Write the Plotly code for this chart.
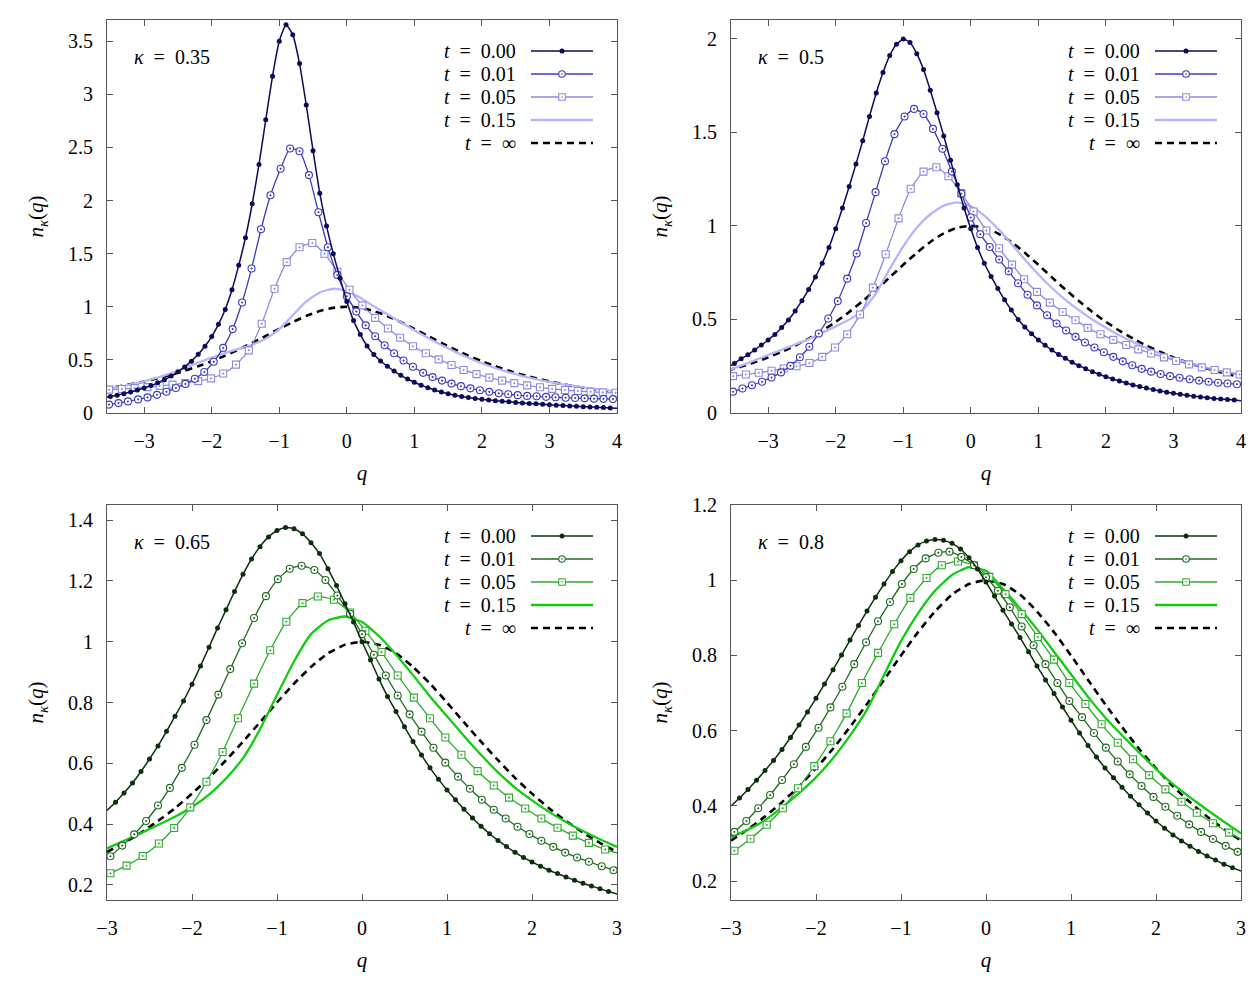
import plotly.graph_objects as go

W, H = 1260, 990
FONT = "'Liberation Serif', 'DejaVu Serif', 'Times New Roman', serif"

# ---------------- q sampling grids ----------------
TOP_Q_DOT = [-3.55, -3.5, -3.4, -3.3, -3.2, -3.1, -3.0, -2.9, -2.8, -2.7, -2.6,
             -2.5, -2.4, -2.3, -2.2, -2.1, -2.0, -1.9, -1.8, -1.7, -1.6,
             -1.5, -1.4, -1.3, -1.2, -1.1, -1.0, -0.9, -0.8, -0.7, -0.6,
             -0.5, -0.4, -0.3, -0.2, -0.1, 0.0, 0.1, 0.2, 0.3, 0.4,
             0.5, 0.6, 0.7, 0.8, 0.9, 1.0, 1.1, 1.2, 1.3, 1.4,
             1.5, 1.6, 1.7, 1.8, 1.9, 2.0, 2.1, 2.2, 2.3, 2.4,
             2.5, 2.6, 2.7, 2.8, 2.9, 3.0, 3.1, 3.2, 3.3, 3.4,
             3.5, 3.6, 3.7, 3.8, 3.9, 4.0]
TOP_Q_CIRC = [-3.55,
              -3.52, -3.38, -3.24, -3.09, -2.95, -2.81, -2.67, -2.53, -2.39, -2.25,
              -2.11, -1.97, -1.83, -1.69, -1.55, -1.41, -1.27, -1.13, -0.98, -0.84,
              -0.70, -0.56, -0.42, -0.28, -0.14, 0.0, 0.14, 0.28, 0.42, 0.56,
              0.70, 0.84, 0.98, 1.13, 1.27, 1.41, 1.55, 1.69, 1.83, 1.97,
              2.11, 2.25, 2.39, 2.53, 2.67, 2.81, 2.95, 3.09, 3.24, 3.38,
              3.52, 3.66, 3.80, 3.94,
              4.0]
TOP_Q_SQ = [-3.55,
            -3.52, -3.33, -3.14, -2.95, -2.77, -2.58, -2.39, -2.20, -2.01, -1.83,
            -1.64, -1.45, -1.26, -1.07, -0.89, -0.70, -0.51, -0.33, -0.14, 0.04,
            0.23, 0.42, 0.61, 0.79, 0.98, 1.17, 1.36, 1.55, 1.73, 1.92,
            2.11, 2.30, 2.48, 2.67, 2.86, 3.04, 3.23, 3.42, 3.61, 3.79,
            3.98,
            4.0]
TOP_Q_LINE = [-3.6, -3.4, -3.2, -3.0, -2.8, -2.6, -2.4, -2.2, -2.0, -1.8,
              -1.6, -1.4, -1.2, -1.0, -0.8, -0.6, -0.4, -0.2, 0.0, 0.2,
              0.4, 0.6, 0.8, 1.0, 1.2, 1.4, 1.6, 1.8, 2.0, 2.2,
              2.4, 2.6, 2.8, 3.0, 3.2, 3.4, 3.6, 3.8, 4.0]

BOT_Q_DOT = [-3.0, -2.9, -2.8, -2.7, -2.6, -2.5, -2.4, -2.3, -2.2, -2.1,
             -2.0, -1.9, -1.8, -1.7, -1.6, -1.5, -1.4, -1.3, -1.2, -1.1,
             -1.0, -0.9, -0.8, -0.7, -0.6, -0.5, -0.4, -0.3, -0.2, -0.1,
             0.0, 0.1, 0.2, 0.3, 0.4, 0.5, 0.6, 0.7, 0.8, 0.9,
             1.0, 1.1, 1.2, 1.3, 1.4, 1.5, 1.6, 1.7, 1.8, 1.9,
             2.0, 2.1, 2.2, 2.3, 2.4, 2.5, 2.6, 2.7, 2.8, 2.9,
             3.0]
BOT_Q_CIRC = [-3.0,
              -2.96, -2.82, -2.68, -2.54, -2.40, -2.26, -2.12, -1.97, -1.83, -1.69,
              -1.55, -1.41, -1.27, -1.13, -0.99, -0.85, -0.71, -0.56, -0.43, -0.29,
              -0.14, 0.0, 0.14, 0.28, 0.42, 0.56, 0.70, 0.84, 0.98, 1.13,
              1.27, 1.41, 1.55, 1.69, 1.83, 1.97, 2.11, 2.25, 2.39, 2.53,
              2.67, 2.82, 2.96,
              3.0]
BOT_Q_SQ = [-3.0,
            -2.96, -2.77, -2.58, -2.39, -2.21, -2.02, -1.83, -1.64, -1.46, -1.27,
            -1.08, -0.89, -0.70, -0.52, -0.33, -0.14, 0.04, 0.23, 0.42, 0.61,
            0.80, 0.98, 1.17, 1.36, 1.55, 1.73, 1.92, 2.11, 2.30, 2.48,
            2.67, 2.86,
            3.0]
BOT_Q_LINE = [-3.0, -2.8, -2.6, -2.4, -2.2, -2.0, -1.8, -1.6, -1.4, -1.2,
              -1.0, -0.8, -0.6, -0.4, -0.2, 0.0, 0.2, 0.4, 0.6, 0.8,
              1.0, 1.2, 1.4, 1.6, 1.8, 2.0, 2.2, 2.4, 2.6, 2.8,
              3.0]

# ---------------- kappa = 0.35 ----------------
P1_T000 = [0.149,
           0.155, 0.168, 0.182, 0.198, 0.216, 0.236, 0.258, 0.284, 0.314, 0.348,
           0.388, 0.434, 0.488, 0.552, 0.628, 0.72, 0.835, 0.975, 1.16, 1.39,
           1.65, 1.97, 2.34, 2.76, 3.17, 3.50, 3.655, 3.56, 3.29, 2.90,
           2.47, 2.07, 1.76, 1.50, 1.27, 1.05, 0.87, 0.74, 0.63, 0.55,
           0.49, 0.44, 0.395, 0.355, 0.32, 0.29, 0.262, 0.238, 0.217, 0.198,
           0.182, 0.168, 0.156, 0.146, 0.137, 0.129, 0.122, 0.116, 0.11, 0.105,
           0.1, 0.095, 0.09, 0.086, 0.082, 0.078, 0.074, 0.07, 0.067, 0.063,
           0.06, 0.057, 0.054, 0.051, 0.048, 0.045]
P1_T001 = [0.076,
           0.079, 0.093, 0.109, 0.128, 0.147, 0.171, 0.2, 0.235, 0.274, 0.322,
           0.386, 0.482, 0.613, 0.79, 1.04, 1.36, 1.73, 2.05, 2.30, 2.49,
           2.465, 2.24, 1.89, 1.56, 1.30, 1.10, 0.955, 0.825, 0.723, 0.638,
           0.562, 0.494, 0.435, 0.378, 0.338, 0.305, 0.277, 0.253, 0.232, 0.214,
           0.199, 0.186, 0.176, 0.168, 0.161, 0.157, 0.152, 0.148, 0.144, 0.141,
           0.138, 0.135, 0.133, 0.131,
           0.13]
P1_T005 = [0.219,
           0.22, 0.226, 0.234, 0.244, 0.255, 0.267, 0.282, 0.3, 0.326, 0.372,
           0.455, 0.59, 0.84, 1.17, 1.42, 1.56, 1.60, 1.50, 1.33, 1.16,
           1.013, 0.896, 0.796, 0.708, 0.629, 0.562, 0.505, 0.452, 0.405, 0.366,
           0.333, 0.305, 0.281, 0.26, 0.242, 0.227, 0.216, 0.207, 0.2, 0.194,
           0.19,
           0.19]
P1_T015 = [0.222, 0.244, 0.269, 0.298, 0.334, 0.376, 0.424, 0.474, 0.522, 0.565,
           0.603, 0.643, 0.70, 0.79, 0.92, 1.05, 1.135, 1.17, 1.15, 1.085,
           1.005, 0.93, 0.855, 0.78, 0.708, 0.64, 0.578, 0.52, 0.468, 0.423,
           0.383, 0.348, 0.318, 0.292, 0.27, 0.25, 0.232, 0.217, 0.203]

# ---------------- kappa = 0.5 ----------------
P2_T000 = [0.253,
           0.265, 0.29, 0.311, 0.337, 0.363, 0.39, 0.42, 0.457, 0.497, 0.545,
           0.60, 0.66, 0.727, 0.80, 0.885, 0.985, 1.095, 1.21, 1.33, 1.455,
           1.585, 1.71, 1.82, 1.91, 1.97, 1.998, 1.98, 1.92, 1.835, 1.725,
           1.605, 1.48, 1.35, 1.22, 1.095, 0.985, 0.885, 0.80, 0.73, 0.665,
           0.605, 0.55, 0.50, 0.46, 0.423, 0.39, 0.362, 0.336, 0.313, 0.292,
           0.271, 0.253, 0.237, 0.221, 0.207, 0.194, 0.182, 0.171, 0.16, 0.15,
           0.141, 0.133, 0.125, 0.118, 0.111, 0.105, 0.1, 0.095, 0.09, 0.086,
           0.082, 0.078, 0.075, 0.072, 0.069, 0.066]
P2_T001 = [0.111,
           0.114, 0.131, 0.148, 0.167, 0.19, 0.217, 0.252, 0.298, 0.354, 0.425,
           0.505, 0.598, 0.718, 0.852, 1.015, 1.18, 1.345, 1.49, 1.584, 1.625,
           1.598, 1.518, 1.412, 1.29, 1.172, 1.045, 0.955, 0.887, 0.82, 0.757,
           0.693, 0.632, 0.575, 0.522, 0.478, 0.441, 0.407, 0.377, 0.35, 0.325,
           0.3, 0.276, 0.255, 0.236, 0.221, 0.208, 0.197, 0.188, 0.18, 0.173,
           0.167, 0.162, 0.158, 0.154,
           0.152]
P2_T005 = [0.196,
           0.197, 0.206, 0.215, 0.226, 0.238, 0.25, 0.267, 0.30, 0.35, 0.421,
           0.526, 0.67, 0.848, 1.04, 1.198, 1.29, 1.313, 1.265, 1.175, 1.077,
           0.975, 0.88, 0.793, 0.715, 0.647, 0.59, 0.54, 0.496, 0.455, 0.421,
           0.391, 0.363, 0.34, 0.318, 0.297, 0.278, 0.26, 0.244, 0.23, 0.217,
           0.206,
           0.205]
P2_T015 = [0.226, 0.253, 0.281, 0.31, 0.338, 0.366, 0.395, 0.428, 0.463, 0.499,
           0.55, 0.64, 0.77, 0.89, 0.99, 1.062, 1.108, 1.125, 1.105, 1.055,
           0.985, 0.905, 0.82, 0.74, 0.668, 0.605, 0.55, 0.5, 0.456, 0.416,
           0.38, 0.348, 0.318, 0.292, 0.27, 0.25, 0.232, 0.217, 0.204]

TOP_INF = [0.227, 0.248, 0.271, 0.297, 0.327, 0.360, 0.398, 0.440, 0.487, 0.540,
           0.598, 0.660, 0.725, 0.792, 0.856, 0.914, 0.960, 0.990, 1.000, 0.990,
           0.960, 0.914, 0.856, 0.792, 0.725, 0.660, 0.598, 0.540, 0.487, 0.440,
           0.398, 0.360, 0.327, 0.297, 0.271, 0.248, 0.227, 0.208, 0.192]

# ---------------- kappa = 0.65 ----------------
P3_T000 = [0.445, 0.472, 0.502, 0.535, 0.573, 0.614, 0.657, 0.705, 0.755, 0.805,
           0.86, 0.92, 0.982, 1.045, 1.105, 1.165, 1.222, 1.272, 1.313, 1.345,
           1.366, 1.376, 1.372, 1.355, 1.326, 1.29, 1.24, 1.185, 1.125, 1.065,
           1.0, 0.94, 0.877, 0.82, 0.77, 0.72, 0.672, 0.627, 0.585, 0.547,
           0.512, 0.48, 0.449, 0.42, 0.393, 0.368, 0.346, 0.326, 0.307, 0.29,
           0.275, 0.261, 0.248, 0.237, 0.226, 0.215, 0.205, 0.196, 0.187, 0.178,
           0.17]
P3_T001 = [0.285,
           0.294, 0.329, 0.366, 0.41, 0.461, 0.519, 0.585, 0.661, 0.742, 0.826,
           0.91, 0.995, 1.078, 1.15, 1.206, 1.24, 1.25, 1.236, 1.203, 1.152,
           1.092, 1.025, 0.957, 0.889, 0.823, 0.761, 0.704, 0.651, 0.602, 0.556,
           0.516, 0.48, 0.447, 0.418, 0.391, 0.367, 0.345, 0.325, 0.306, 0.29,
           0.276, 0.261, 0.248,
           0.244]
P3_T005 = [0.233,
           0.238, 0.263, 0.295, 0.336, 0.387, 0.455, 0.539, 0.637, 0.748, 0.862,
           0.972, 1.066, 1.127, 1.149, 1.138, 1.096, 1.036, 0.966, 0.889, 0.816,
           0.748, 0.685, 0.628, 0.574, 0.527, 0.487, 0.451, 0.418, 0.388, 0.362,
           0.338, 0.316,
           0.305]
P3_T015 = [0.32, 0.345, 0.37, 0.397, 0.424, 0.456, 0.497, 0.55, 0.617, 0.712,
           0.825, 0.935, 1.025, 1.07, 1.083, 1.065, 1.018, 0.958, 0.89, 0.82,
           0.755, 0.69, 0.628, 0.57, 0.52, 0.478, 0.44, 0.407, 0.377, 0.35,
           0.325]

# ---------------- kappa = 0.8 ----------------
P4_T000 = [0.40, 0.421, 0.444, 0.468, 0.494, 0.521, 0.55, 0.582, 0.615, 0.65,
           0.686, 0.724, 0.762, 0.801, 0.841, 0.88, 0.918, 0.955, 0.99, 1.023,
           1.052, 1.076, 1.094, 1.104, 1.108, 1.106, 1.098, 1.083, 1.06, 1.03,
           0.995, 0.958, 0.92, 0.884, 0.848, 0.81, 0.772, 0.735, 0.699, 0.663,
           0.628, 0.594, 0.561, 0.53, 0.501, 0.475, 0.45, 0.426, 0.403, 0.381,
           0.36, 0.341, 0.323, 0.307, 0.293, 0.279, 0.267, 0.256, 0.245, 0.236,
           0.227]
P4_T001 = [0.321,
           0.331, 0.36, 0.394, 0.429, 0.469, 0.511, 0.557, 0.608, 0.662, 0.717,
           0.777, 0.835, 0.891, 0.942, 0.99, 1.03, 1.058, 1.073, 1.076, 1.062,
           1.04, 1.008, 0.972, 0.928, 0.877, 0.827, 0.777, 0.727, 0.679, 0.636,
           0.594, 0.555, 0.518, 0.484, 0.453, 0.424, 0.398, 0.374, 0.351, 0.331,
           0.312, 0.294, 0.278,
           0.274]
P4_T005 = [0.275,
           0.281, 0.313, 0.35, 0.394, 0.447, 0.506, 0.572, 0.646, 0.727, 0.807,
           0.883, 0.953, 1.006, 1.04, 1.05, 1.04, 1.009, 0.963, 0.91, 0.849,
           0.789, 0.727, 0.671, 0.617, 0.568, 0.524, 0.482, 0.444, 0.411, 0.382,
           0.354, 0.329,
           0.312]
P4_T015 = [0.317, 0.337, 0.362, 0.396, 0.434, 0.476, 0.527, 0.587, 0.656, 0.748,
           0.838, 0.912, 0.972, 1.014, 1.035, 1.025, 0.977, 0.925, 0.87, 0.81,
           0.75, 0.69, 0.636, 0.588, 0.542, 0.498, 0.458, 0.423, 0.39, 0.358,
           0.327]

BOT_INF = [0.308, 0.338, 0.372, 0.41, 0.452, 0.5, 0.552, 0.61, 0.671, 0.735,
           0.8, 0.862, 0.917, 0.962, 0.99, 1.0, 0.99, 0.962, 0.917, 0.862,
           0.8, 0.735, 0.671, 0.61, 0.552, 0.5, 0.452, 0.41, 0.372, 0.338,
           0.308]

# ---------------- labels / ticks ----------------
KAPPAS = ["0.35", "0.5", "0.65", "0.8"]
T_LABELS = ["0.00", "0.01", "0.05", "0.15", "\u221e"]
X_TITLE = "<i>q</i>"
Y_TITLE = "<i>n</i><sub><i>\u03ba</i></sub>(<i>q</i>)"
X_TICKS_TOP = [-3, -2, -1, 0, 1, 2, 3, 4]
X_TICKS_BOT = [-3, -2, -1, 0, 1, 2, 3]
Y_TICKS = [
    [0, 0.5, 1, 1.5, 2, 2.5, 3, 3.5],
    [0, 0.5, 1, 1.5, 2],
    [0.2, 0.4, 0.6, 0.8, 1, 1.2, 1.4],
    [0.2, 0.4, 0.6, 0.8, 1, 1.2],
]

BLUES = ["#0b0b5c", "#3b3bc2", "#8a8ae2", "#b4b4ff"]
GREENS = ["#0a300a", "#1e6b1e", "#2faa2f", "#12cc12"]

PANELS = [
    dict(kappa=KAPPAS[0], colors=BLUES, box=(107, 617, 20, 413), xr=[-3.55, 4], yr=[0, 3.7],
         xt=X_TICKS_TOP, yt=Y_TICKS[0],
         dot=(TOP_Q_DOT, P1_T000), circ=(TOP_Q_CIRC, P1_T001), sq=(TOP_Q_SQ, P1_T005),
         sol=(TOP_Q_LINE, P1_T015), inf=(TOP_Q_LINE, TOP_INF)),
    dict(kappa=KAPPAS[1], colors=BLUES, box=(731, 1241, 20, 413), xr=[-3.55, 4], yr=[0, 2.1],
         xt=X_TICKS_TOP, yt=Y_TICKS[1],
         dot=(TOP_Q_DOT, P2_T000), circ=(TOP_Q_CIRC, P2_T001), sq=(TOP_Q_SQ, P2_T005),
         sol=(TOP_Q_LINE, P2_T015), inf=(TOP_Q_LINE, TOP_INF)),
    dict(kappa=KAPPAS[2], colors=GREENS, box=(107, 617, 505, 900), xr=[-3, 3], yr=[0.15, 1.45],
         xt=X_TICKS_BOT, yt=Y_TICKS[2],
         dot=(BOT_Q_DOT, P3_T000), circ=(BOT_Q_CIRC, P3_T001), sq=(BOT_Q_SQ, P3_T005),
         sol=(BOT_Q_LINE, P3_T015), inf=(BOT_Q_LINE, BOT_INF)),
    dict(kappa=KAPPAS[3], colors=GREENS, box=(731, 1241, 505, 900), xr=[-3, 3], yr=[0.15, 1.2],
         xt=X_TICKS_BOT, yt=Y_TICKS[3],
         dot=(BOT_Q_DOT, P4_T000), circ=(BOT_Q_CIRC, P4_T001), sq=(BOT_Q_SQ, P4_T005),
         sol=(BOT_Q_LINE, P4_T015), inf=(BOT_Q_LINE, BOT_INF)),
]


def fx(x):
    return x / W


def fy(y):
    return 1 - y / H


fig = go.Figure()
axes = {}
annotations = []
shapes = []
AXC = "#555555"
EQ = "\u2002=\u2002"
TXT = dict(family=FONT, size=20, color="#000")
TTL = dict(family=FONT, size=21, color="#000")
DASH = "7px,5px"

for i, p in enumerate(PANELS, start=1):
    xa = "x" if i == 1 else f"x{i}"
    ya = "y" if i == 1 else f"y{i}"
    L, R, T, B = p["box"]
    c0, c1, c2, c3 = p["colors"]
    lo, hi = p["xr"]

    def add_line(qs, ys, color, width, dash=None):
        fig.add_trace(go.Scatter(
            x=qs, y=ys, mode="lines", xaxis=xa, yaxis=ya, showlegend=False, hoverinfo="skip",
            line=dict(color=color, width=width, dash=dash, shape="spline", smoothing=0.5)))

    def add_marks(qs, ys, symbol, size, fill, color, lw):
        pts = [(q, v) for q, v in zip(qs, ys) if lo + 0.015 < q < hi - 0.015]
        fig.add_trace(go.Scatter(
            x=[q for q, _ in pts], y=[v for _, v in pts], mode="markers", xaxis=xa, yaxis=ya,
            showlegend=False, hoverinfo="skip",
            marker=dict(symbol=symbol, size=size, color=fill, line=dict(color=color, width=lw))))

    add_line(*p["inf"], "#000000", 2.6, DASH)
    add_line(*p["sol"], c3, 2.3)
    add_line(*p["sq"], c2, 1.3)
    add_marks(*p["sq"], "square-dot", 7, "white", c2, 1.1)
    add_line(*p["circ"], c1, 1.3)
    add_marks(*p["circ"], "circle-dot", 7, "white", c1, 1.1)
    add_line(*p["dot"], c0, 1.5)
    add_marks(*p["dot"], "circle", 5, c0, c0, 0)

    common = dict(ticks="inside", ticklen=6, tickwidth=1, tickcolor=AXC, showline=True,
                  linewidth=1, linecolor=AXC, mirror="ticks", showgrid=False, zeroline=False,
                  tickfont=TXT, automargin=False, tickmode="array")
    axes["xaxis" if i == 1 else f"xaxis{i}"] = dict(
        domain=[fx(L), fx(R)], range=p["xr"], anchor=ya, tickvals=p["xt"],
        ticklabelstandoff=10, title=dict(text=X_TITLE, font=TTL, standoff=14), **common)
    axes["yaxis" if i == 1 else f"yaxis{i}"] = dict(
        domain=[fy(B), fy(T)], range=p["yr"], anchor=xa, tickvals=p["yt"],
        ticklabelstandoff=9, title=dict(text=Y_TITLE, font=TTL, standoff=18), **common)

    # kappa label
    annotations.append(dict(text="<i>\u03ba</i>" + EQ + p["kappa"], x=fx(L + 25), y=fy(T + 37),
                            xref="paper", yref="paper", xanchor="left", yanchor="middle",
                            showarrow=False, font=TXT))

    # legend (text left, sample right, as in the original)
    cols = [c0, c1, c2, c3, "#000000"]
    widths = [1.5, 1.3, 1.3, 2.3, 2.6]
    for k, lab in enumerate(T_LABELS):
        yrow = T + 31 + 23 * k
        annotations.append(dict(text="<i>t</i>" + EQ + lab, x=fx(R - 99), y=fy(yrow),
                                xref="paper", yref="paper", xanchor="right", yanchor="middle",
                                showarrow=False, font=TXT))
        shapes.append(dict(type="line", xref="paper", yref="paper", x0=fx(R - 86), x1=fx(R - 24),
                           y0=fy(yrow), y1=fy(yrow),
                           line=dict(color=cols[k], width=widths[k],
                                     dash=DASH if k == 4 else "solid")))
        cx, cy = fx(R - 55), fy(yrow)
        if k == 0:
            shapes.append(dict(type="circle", xref="paper", yref="paper", xsizemode="pixel",
                               ysizemode="pixel", xanchor=cx, yanchor=cy, x0=-2.5, x1=2.5,
                               y0=-2.5, y1=2.5, fillcolor=c0, line=dict(color=c0, width=0)))
        elif k in (1, 2):
            kind = "circle" if k == 1 else "rect"
            shapes.append(dict(type=kind, xref="paper", yref="paper", xsizemode="pixel",
                               ysizemode="pixel", xanchor=cx, yanchor=cy, x0=-3.3, x1=3.3,
                               y0=-3.3, y1=3.3, fillcolor="white",
                               line=dict(color=cols[k], width=1.1)))
            shapes.append(dict(type="circle", xref="paper", yref="paper", xsizemode="pixel",
                               ysizemode="pixel", xanchor=cx, yanchor=cy, x0=-0.8, x1=0.8,
                               y0=-0.8, y1=0.8, fillcolor=cols[k],
                               line=dict(color=cols[k], width=0)))

fig.update_layout(
    template="none",
    width=W, height=H, autosize=False, margin=dict(l=0, r=0, t=0, b=0, pad=0),
    font=TXT, paper_bgcolor="white", plot_bgcolor="white", showlegend=False,
    annotations=annotations, shapes=shapes, **axes)

fig.write_html("out.html", config={"displayModeBar": False})
